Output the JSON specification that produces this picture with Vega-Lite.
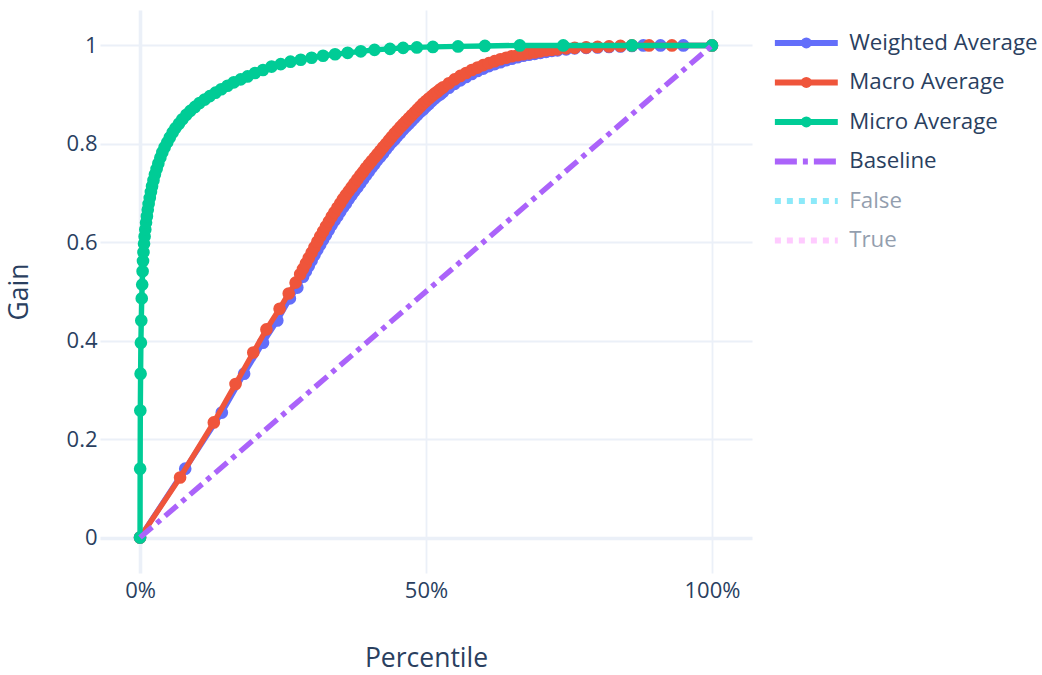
{
  "$schema": "https://vega.github.io/schema/vega-lite/v6.json",
  "autosize": "none",
  "width": 652,
  "height": 563,
  "padding": {"left": 100, "top": 10, "right": 290, "bottom": 102},
  "background": "white",
  "config": {
    "view": {"stroke": null},
    "font": "Open Sans",
    "axis": {
      "domain": false,
      "ticks": false,
      "grid": true,
      "gridColor": "#EBF0F8",
      "gridWidth": {"condition": {"test": "datum.value === 0", "value": 3.6}, "value": 1.8},
      "labelFont": "Open Sans",
      "labelFontSize": 22,
      "labelColor": "#2a3f5f",
      "titleFont": "Open Sans",
      "titleFontSize": 26.5,
      "titleFontWeight": "normal",
      "titleColor": "#2a3f5f",
      "labelFlush": false
    }
  },
  "datasets": {
    "weighted": [
      {"x":0,"gain":0},{"x":7.9,"gain":0.14},{"x":14.3,"gain":0.254},{"x":18.2,"gain":0.333},{"x":21.5,"gain":0.396},{"x":24.0,"gain":0.441},{"x":26.2,"gain":0.486},{"x":27.5,"gain":0.508},
      {"x":28.5,"gain":0.53},{"x":29,"gain":0.541},{"x":29.5,"gain":0.552},{"x":30,"gain":0.563},{"x":30.5,"gain":0.574},{"x":31,"gain":0.585},{"x":31.5,"gain":0.595},{"x":32,"gain":0.605},{"x":32.5,"gain":0.615},{"x":33,"gain":0.625},{"x":33.5,"gain":0.635},{"x":34,"gain":0.644},{"x":34.5,"gain":0.653},{"x":35,"gain":0.662},{"x":35.5,"gain":0.671},{"x":36,"gain":0.679},{"x":36.5,"gain":0.688},{"x":37,"gain":0.696},{"x":37.5,"gain":0.704},{"x":38,"gain":0.712},{"x":38.5,"gain":0.72},{"x":39,"gain":0.728},{"x":39.5,"gain":0.736},{"x":40,"gain":0.744},{"x":40.5,"gain":0.752},{"x":41,"gain":0.759},{"x":41.5,"gain":0.767},{"x":42,"gain":0.774},{"x":42.5,"gain":0.781},{"x":43,"gain":0.789},{"x":43.5,"gain":0.796},{"x":44,"gain":0.803},{"x":44.5,"gain":0.809},{"x":45,"gain":0.816},{"x":45.5,"gain":0.822},{"x":46,"gain":0.829},{"x":46.5,"gain":0.835},{"x":47,"gain":0.841},{"x":47.5,"gain":0.847},{"x":48,"gain":0.853},{"x":48.5,"gain":0.859},{"x":49,"gain":0.865},{"x":49.5,"gain":0.87},{"x":50,"gain":0.876},
      {"x":50.5,"gain":0.881},{"x":51,"gain":0.887},{"x":51.5,"gain":0.892},{"x":52,"gain":0.897},{"x":52.5,"gain":0.901},{"x":53,"gain":0.906},{"x":54,"gain":0.914},{"x":55,"gain":0.922},{"x":56,"gain":0.929},{"x":57,"gain":0.936},{"x":58,"gain":0.942},{"x":59,"gain":0.948},{"x":60,"gain":0.953},{"x":61,"gain":0.958},{"x":62,"gain":0.962},{"x":63,"gain":0.966},{"x":64,"gain":0.97},{"x":65,"gain":0.973},{"x":66,"gain":0.976},{"x":67,"gain":0.979},{"x":68,"gain":0.981},{"x":69,"gain":0.983},{"x":70,"gain":0.985},{"x":71,"gain":0.987},{"x":72,"gain":0.989},{"x":73,"gain":0.99},{"x":74.5,"gain":0.992},{"x":76,"gain":0.994},{"x":78,"gain":0.995},{"x":80,"gain":0.996},{"x":82,"gain":0.997},{"x":84,"gain":0.998},{"x":86,"gain":0.999},{"x":88,"gain":1.0},{"x":91,"gain":1.0},{"x":95,"gain":1.0},{"x":100,"gain":1.0}
    ],
    "macro": [
      {"x":0,"gain":0},{"x":7.0,"gain":0.122},{"x":12.9,"gain":0.234},{"x":16.7,"gain":0.312},{"x":19.8,"gain":0.376},{"x":22.1,"gain":0.423},{"x":24.4,"gain":0.465},{"x":26.0,"gain":0.496},{"x":27.2,"gain":0.518},
      {"x":28,"gain":0.535},{"x":28.5,"gain":0.546},{"x":29,"gain":0.557},{"x":29.5,"gain":0.568},{"x":30,"gain":0.579},{"x":30.5,"gain":0.59},{"x":31,"gain":0.601},{"x":31.5,"gain":0.612},{"x":32,"gain":0.622},{"x":32.5,"gain":0.632},{"x":33,"gain":0.642},{"x":33.5,"gain":0.652},{"x":34,"gain":0.661},{"x":34.5,"gain":0.67},{"x":35,"gain":0.679},{"x":35.5,"gain":0.688},{"x":36,"gain":0.696},{"x":36.5,"gain":0.704},{"x":37,"gain":0.712},{"x":37.5,"gain":0.72},{"x":38,"gain":0.728},{"x":38.5,"gain":0.736},{"x":39,"gain":0.743},{"x":39.5,"gain":0.751},{"x":40,"gain":0.758},{"x":40.5,"gain":0.765},{"x":41,"gain":0.772},{"x":41.5,"gain":0.779},{"x":42,"gain":0.786},{"x":42.5,"gain":0.793},{"x":43,"gain":0.8},{"x":43.5,"gain":0.807},{"x":44,"gain":0.814},{"x":44.5,"gain":0.821},{"x":45,"gain":0.827},{"x":45.5,"gain":0.834},{"x":46,"gain":0.84},{"x":46.5,"gain":0.846},{"x":47,"gain":0.852},{"x":47.5,"gain":0.858},{"x":48,"gain":0.864},{"x":48.5,"gain":0.87},{"x":49,"gain":0.876},{"x":49.5,"gain":0.882},{"x":50,"gain":0.887},
      {"x":50.5,"gain":0.892},{"x":51,"gain":0.897},{"x":51.5,"gain":0.902},{"x":52,"gain":0.906},{"x":52.5,"gain":0.911},{"x":53,"gain":0.915},{"x":54,"gain":0.923},{"x":55,"gain":0.931},{"x":56,"gain":0.938},{"x":57,"gain":0.944},{"x":58,"gain":0.95},{"x":59,"gain":0.955},{"x":60,"gain":0.96},{"x":61,"gain":0.964},{"x":62,"gain":0.968},{"x":63,"gain":0.972},{"x":64,"gain":0.975},{"x":65,"gain":0.978},{"x":66,"gain":0.98},{"x":67,"gain":0.982},{"x":68,"gain":0.984},{"x":69,"gain":0.986},{"x":70,"gain":0.988},{"x":71,"gain":0.99},{"x":72,"gain":0.991},{"x":73,"gain":0.992},{"x":74.5,"gain":0.994},{"x":76,"gain":0.995},{"x":78,"gain":0.996},{"x":80,"gain":0.997},{"x":82,"gain":0.998},{"x":84,"gain":0.999},{"x":86,"gain":1.0},{"x":89,"gain":1.0},{"x":93,"gain":1.0},{"x":100,"gain":1.0}
    ],
    "micro": [
      {"x":0,"gain":0},{"x":0.02,"gain":0.14},{"x":0.05,"gain":0.258},{"x":0.1,"gain":0.333},{"x":0.15,"gain":0.396},{"x":0.22,"gain":0.441},{"x":0.3,"gain":0.486},{"x":0.38,"gain":0.514},{"x":0.45,"gain":0.541},{"x":0.52,"gain":0.562},{"x":0.6,"gain":0.58},{"x":0.7,"gain":0.597},{"x":0.8,"gain":0.612},{"x":0.92,"gain":0.626},{"x":1.05,"gain":0.64},{"x":1.2,"gain":0.653},{"x":1.35,"gain":0.666},{"x":1.5,"gain":0.678},{"x":1.7,"gain":0.69},{"x":1.9,"gain":0.702},{"x":2.1,"gain":0.714},{"x":2.35,"gain":0.726},{"x":2.6,"gain":0.738},{"x":2.9,"gain":0.749},{"x":3.2,"gain":0.76},{"x":3.55,"gain":0.772},{"x":3.9,"gain":0.783},{"x":4.3,"gain":0.793},{"x":4.75,"gain":0.803},{"x":5.2,"gain":0.813},{"x":5.7,"gain":0.823},{"x":6.2,"gain":0.832},{"x":6.8,"gain":0.841},{"x":7.4,"gain":0.85},{"x":8.1,"gain":0.859},{"x":8.8,"gain":0.867},{"x":9.6,"gain":0.875},{"x":10.4,"gain":0.883},{"x":11.3,"gain":0.89},{"x":12.2,"gain":0.897},{"x":13.2,"gain":0.904},{"x":14.2,"gain":0.911},{"x":15.3,"gain":0.918},{"x":16.4,"gain":0.925},{"x":17.6,"gain":0.931},{"x":18.8,"gain":0.937},{"x":20.1,"gain":0.944},{"x":21.5,"gain":0.95},{"x":23.0,"gain":0.957},{"x":24.6,"gain":0.962},{"x":26.3,"gain":0.967},{"x":28.1,"gain":0.971},{"x":30.0,"gain":0.975},{"x":32.0,"gain":0.979},{"x":34.1,"gain":0.982},{"x":36.3,"gain":0.985},{"x":38.6,"gain":0.988},{"x":41.0,"gain":0.991},{"x":43.7,"gain":0.993},{"x":46.0,"gain":0.995},{"x":48.4,"gain":0.996},{"x":51.2,"gain":0.997},{"x":55.6,"gain":0.998},{"x":60.3,"gain":0.999},{"x":66.4,"gain":1.0},{"x":74.0,"gain":1.0},{"x":86.0,"gain":1.0},{"x":100,"gain":1.0}
    ],
    "baseline": [{"x":0,"gain":0},{"x":100,"gain":1}],
    "legend": [
      {"series":"Weighted Average","rank":0},
      {"series":"Macro Average","rank":1},
      {"series":"Micro Average","rank":2},
      {"series":"Baseline","rank":3},
      {"series":"False","rank":4},
      {"series":"True","rank":5}
    ]
  },
  "resolve": {"scale": {"x": "independent", "y": "independent"}, "axis": {"x": "independent", "y": "independent"}},
  "layer": [
    {
      "encoding": {
        "x": {"field": "x", "type": "quantitative", "title": "Percentile",
              "scale": {"domain": [-7, 107], "nice": false, "zero": false},
              "axis": {"values": [0, 50, 100], "labelExpr": "datum.value + '%'", "labelPadding": 7, "titlePadding": 44}},
        "y": {"field": "gain", "type": "quantitative", "title": "Gain",
              "scale": {"domain": [-0.072, 1.072], "nice": false, "zero": false},
              "axis": {"values": [0, 0.2, 0.4, 0.6, 0.8, 1], "format": "~g", "labelPadding": 3, "titlePadding": 33}}
      },
      "layer": [
        {
          "data": {"name": "weighted"},
          "encoding": {"color": {"datum": "Weighted Average", "type": "nominal", "legend": null,
            "scale": {"domain": ["Weighted Average","Macro Average","Micro Average","Baseline","False","True"], "range": ["#636efa","#EF553B","#00cc96","#ab63fa","#19d3f3","#FF97FF"]}}},
          "layer": [
            {"mark": {"type": "line", "strokeWidth": 5.4}},
            {"mark": {"type": "circle", "size": 160, "opacity": 1}}
          ]
        },
        {
          "data": {"name": "macro"},
          "encoding": {"color": {"datum": "Macro Average", "type": "nominal", "legend": null}},
          "layer": [
            {"mark": {"type": "line", "strokeWidth": 5.4}},
            {"mark": {"type": "circle", "size": 160, "opacity": 1}}
          ]
        },
        {
          "data": {"name": "micro"},
          "encoding": {"color": {"datum": "Micro Average", "type": "nominal", "legend": null}},
          "layer": [
            {"mark": {"type": "line", "strokeWidth": 5.4}},
            {"mark": {"type": "circle", "size": 160, "opacity": 1}}
          ]
        },
        {
          "data": {"name": "baseline"},
          "encoding": {"color": {"datum": "Baseline", "type": "nominal", "legend": null}},
          "mark": {"type": "line", "strokeWidth": 5.4, "strokeDash": [16, 6, 5, 6]}
        }
      ]
    },
    {
      "data": {"name": "legend"},
      "encoding": {
        "y": {"field": "rank", "type": "quantitative", "axis": null,
              "scale": {"domain": [-0.835, 13.418], "reverse": true, "nice": false, "zero": false}},
        "opacity": {"condition": {"test": "datum.series === 'False' || datum.series === 'True'", "value": 0.5}, "value": 1}
      },
      "layer": [
        {
          "mark": {"type": "rule", "strokeWidth": 6},
          "encoding": {
            "x": {"datum": 111, "type": "quantitative", "axis": null, "scale": {"domain": [-7, 107], "nice": false, "zero": false}},
            "x2": {"datum": 122},
            "color": {"field": "series", "type": "nominal", "legend": null},
            "strokeDash": {"field": "series", "type": "nominal", "legend": null,
              "scale": {"domain": ["Weighted Average","Macro Average","Micro Average","Baseline","False","True"],
                        "range": [[1,0],[1,0],[1,0],[22,6,5,6],[6,6],[6,6]]}}
          }
        },
        {
          "transform": [{"filter": "datum.rank <= 2"}],
          "mark": {"type": "circle", "size": 120, "opacity": 1},
          "encoding": {
            "x": {"datum": 116.5, "type": "quantitative", "axis": null},
            "color": {"field": "series", "type": "nominal", "legend": null}
          }
        },
        {
          "mark": {"type": "text", "align": "left", "baseline": "middle", "fontSize": 22.3, "font": "Open Sans", "color": "#2a3f5f"},
          "encoding": {
            "x": {"datum": 124, "type": "quantitative", "axis": null},
            "text": {"field": "series"}
          }
        }
      ]
    }
  ]
}
